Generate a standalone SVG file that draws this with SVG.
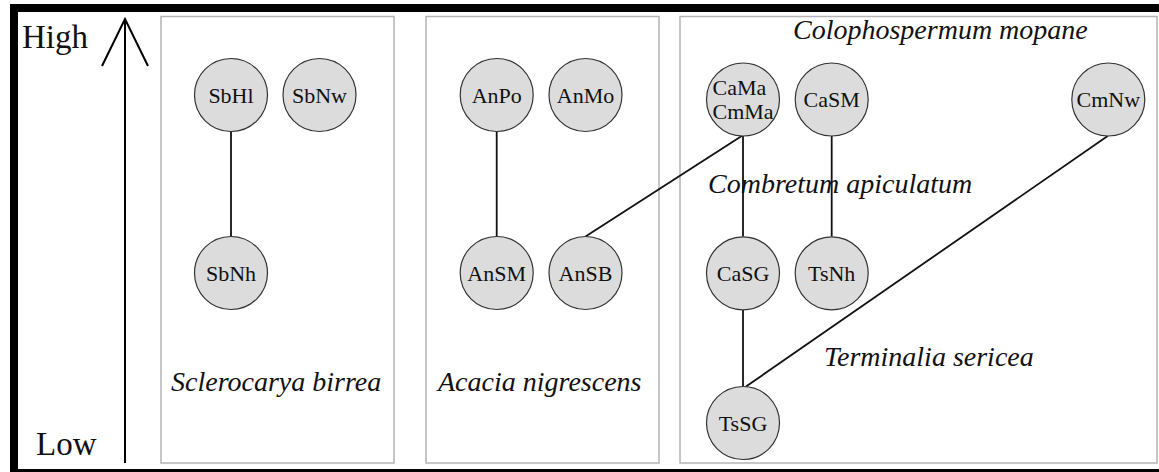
<svg xmlns="http://www.w3.org/2000/svg" width="1159" height="472" viewBox="0 0 1159 472">
<style>
.panel{fill:#fff;stroke:#b4b4b4;stroke-width:1.5}
.node circle{fill:#dcdcdc;stroke:#333;stroke-width:1.2}
.node text{font-family:"Liberation Serif","Times New Roman",serif;font-size:22px;fill:#111;text-anchor:middle}
.lab{font-family:"Liberation Serif","Times New Roman",serif;font-size:28px;font-style:italic;fill:#111}
.axis{font-family:"Liberation Serif","Times New Roman",serif;font-size:33px;fill:#111}
.edge{stroke:#111;stroke-width:1.8;fill:none}
</style>
<rect x="0" y="0" width="1159" height="472" fill="#fff"/>
<rect x="14" y="8" width="1170" height="465" fill="none" stroke="#000" stroke-width="8"/>
<g id="panels">
<rect class="panel" x="161" y="16.5" width="233" height="446.5"/>
<rect class="panel" x="426" y="16.5" width="233" height="446.5"/>
<rect class="panel" x="680" y="16.5" width="477" height="446.5"/>
</g>
<g id="axis">
<line x1="125" y1="19" x2="125" y2="463" stroke="#000" stroke-width="2"/>
<polyline points="102,66 125,19 148,66" fill="none" stroke="#000" stroke-width="2"/>
<text class="axis" x="22" y="48">High</text>
<text class="axis" x="36" y="455">Low</text>
</g>
<g id="labels">
<text class="lab" x="793" y="39">Colophospermum mopane</text>
<text class="lab" x="708" y="193">Combretum apiculatum</text>
<text class="lab" x="824" y="366">Terminalia sericea</text>
<text class="lab" x="171" y="391">Sclerocarya birrea</text>
<text class="lab" x="438" y="391">Acacia nigrescens</text>
</g>
<g id="connectors">
<line class="edge" x1="231" y1="131.5" x2="231" y2="236.5"/>
<line class="edge" x1="496.7" y1="131.5" x2="496.7" y2="236.5"/>
<line class="edge" x1="585.5" y1="236.5" x2="741.7" y2="136"/>
<line class="edge" x1="743" y1="136" x2="743" y2="236.5"/>
<line class="edge" x1="831.7" y1="136" x2="831.7" y2="236.5"/>
<line class="edge" x1="743" y1="310" x2="743" y2="386.5"/>
<line class="edge" x1="1107.7" y1="136" x2="746" y2="386.5"/>
</g>
<g id="SbHl" class="node"><circle cx="231" cy="95" r="36.5"/><text x="231" y="102.5">SbHl</text></g>
<g id="SbNw" class="node"><circle cx="319.5" cy="95" r="36.5"/><text x="319.5" y="102.5">SbNw</text></g>
<g id="SbNh" class="node"><circle cx="231" cy="273" r="36.5"/><text x="231" y="280.5">SbNh</text></g>
<g id="AnPo" class="node"><circle cx="496.7" cy="95" r="36.5"/><text x="496.7" y="102.5">AnPo</text></g>
<g id="AnMo" class="node"><circle cx="585.5" cy="95" r="36.5"/><text x="585.5" y="102.5">AnMo</text></g>
<g id="AnSM" class="node"><circle cx="496.7" cy="273" r="36.5"/><text x="496.7" y="280.5">AnSM</text></g>
<g id="AnSB" class="node"><circle cx="585.5" cy="273" r="36.5"/><text x="585.5" y="280.5">AnSB</text></g>
<g id="CaMaCmMa" class="node"><circle cx="743" cy="99.5" r="36.5"/><text x="712.5" y="95" style="text-anchor:start">CaMa</text><text x="712.5" y="119" style="text-anchor:start">CmMa</text></g>
<g id="CaSM" class="node"><circle cx="831.7" cy="99.5" r="36.5"/><text x="831.7" y="107">CaSM</text></g>
<g id="CmNw" class="node"><circle cx="1108.3" cy="99.5" r="36.5"/><text x="1108.3" y="107">CmNw</text></g>
<g id="CaSG" class="node"><circle cx="743" cy="273.3" r="36.5"/><text x="743" y="280.8">CaSG</text></g>
<g id="TsNh" class="node"><circle cx="831.7" cy="273.3" r="36.5"/><text x="831.7" y="280.8">TsNh</text></g>
<g id="TsSG" class="node"><circle cx="743" cy="423" r="36.5"/><text x="743" y="430.5">TsSG</text></g>
</svg>
